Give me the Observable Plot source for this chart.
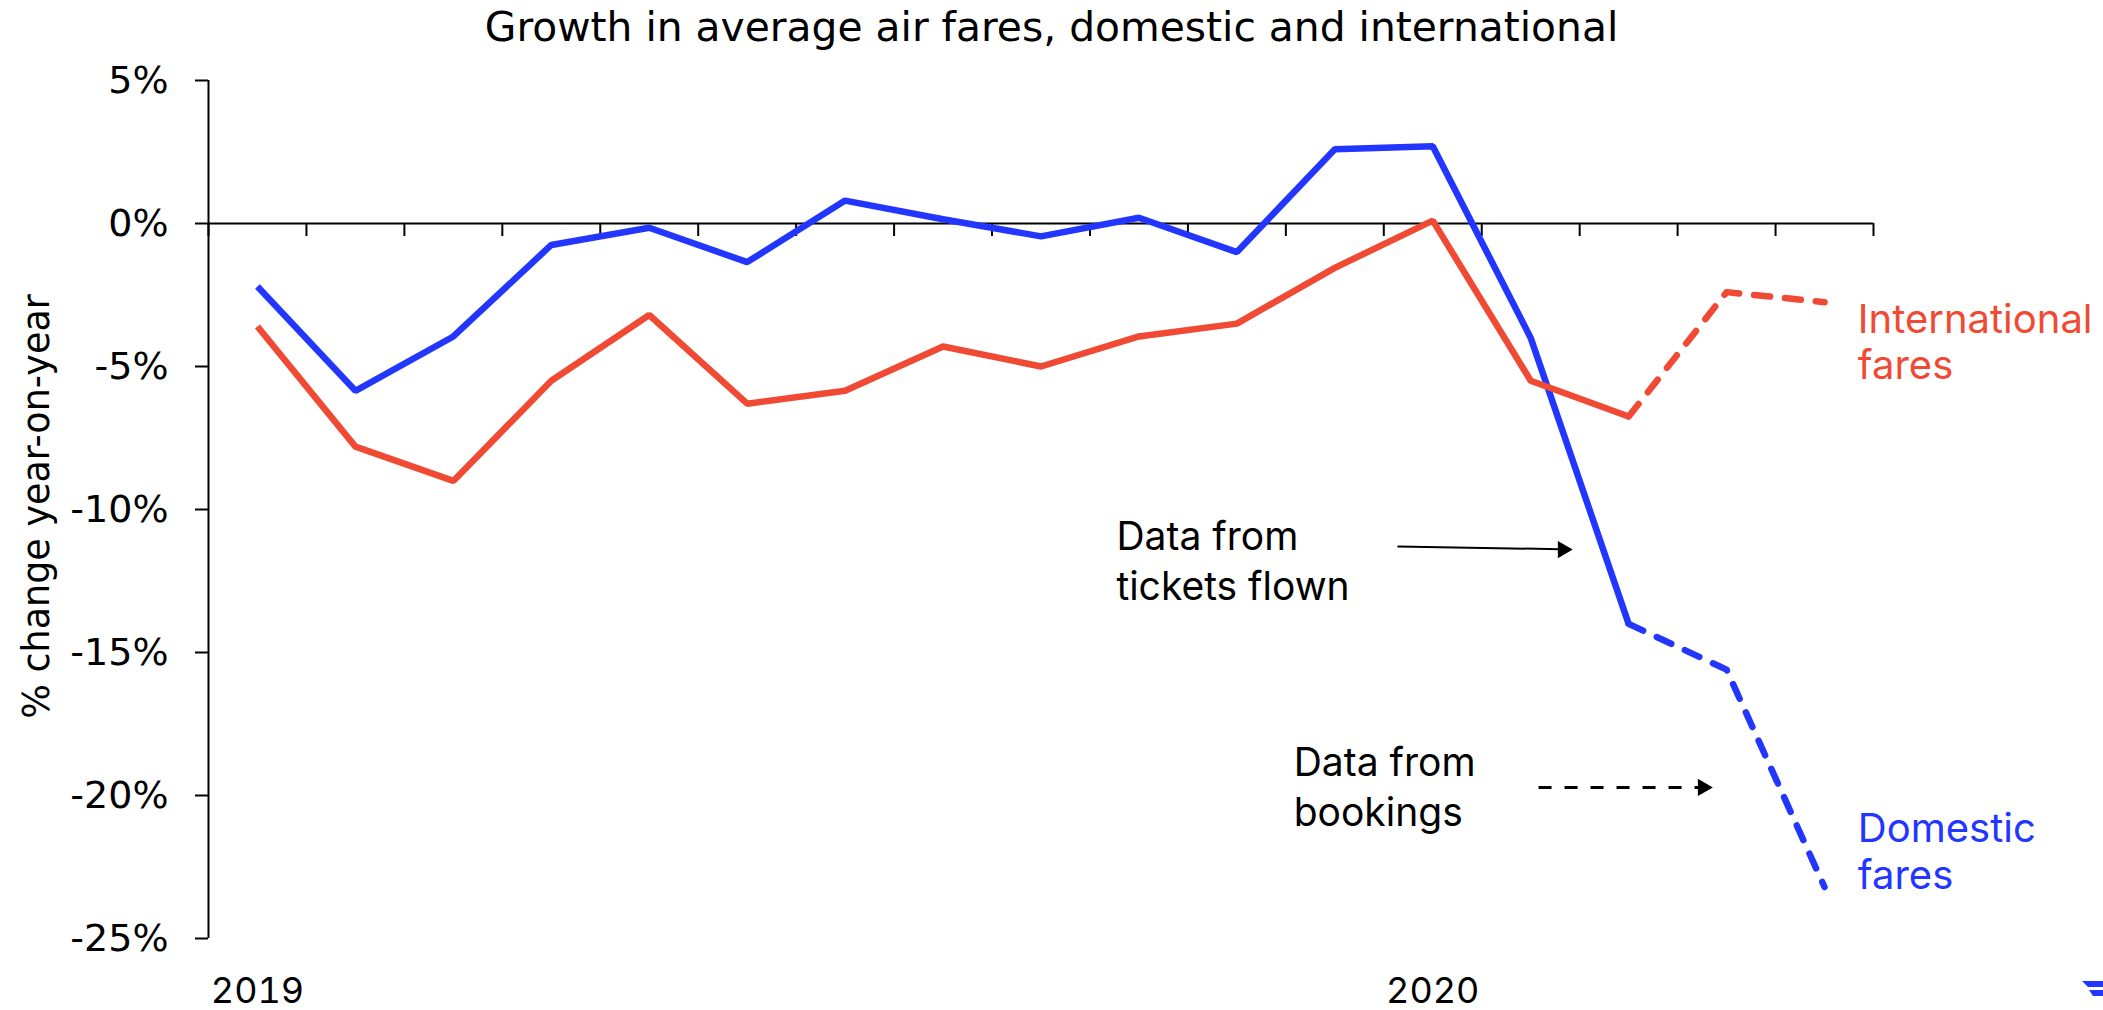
<!DOCTYPE html>
<html>
<head>
<meta charset="utf-8">
<script src="https://cdn.jsdelivr.net/npm/d3@7"></script>
<script src="https://cdn.jsdelivr.net/npm/@observablehq/plot@0.6"></script>
<style>
  html, body { margin: 0; padding: 0; background: #fff; }
  body { width: 2103px; height: 1010px; overflow: hidden; position: relative; }
  #title { height: 55px; line-height: 55px; text-align: center; font-family: "DejaVu Sans", sans-serif; font-size: 40.8px; color: #000; white-space: nowrap; }
  #logo { position: absolute; left: 2078px; top: 975px; }
</style>
</head>
<body>
<div id="title">Growth in average air fares, domestic and international</div>
<div id="chart"></div>
<svg id="logo" width="25" height="35" viewBox="0 0 25 35">
  <polygon points="4,6 25,6 25,12 10,12" fill="#2236ff"/>
  <polygon points="11,15 25,15 25,21 15,21" fill="#2236ff"/>
</svg>
<script>
// ---- data ----
const months = ["Jan 2019","Feb 2019","Mar 2019","Apr 2019","May 2019","Jun 2019","Jul 2019","Aug 2019","Sep 2019","Oct 2019","Nov 2019","Dec 2019","Jan 2020","Feb 2020","Mar 2020","Apr 2020","May 2020"];
const domesticFares      = [-2.2, -5.85, -3.95, -0.75, -0.15, -1.35, 0.8, 0.15, -0.45, 0.2, -1.0, 2.6, 2.7, -4.0, -14.0, -15.6, -23.2];
const internationalFares = [-3.6, -7.8, -9.0, -5.5, -3.2, -6.3, -5.85, -4.3, -5.0, -3.95, -3.5, -1.55, 0.1, -5.5, -6.75, -2.4, -2.75];
const dataSource = ["tickets","tickets","tickets","tickets","tickets","tickets","tickets","tickets","tickets","tickets","tickets","tickets","tickets","tickets","tickets","bookings","bookings"];
const seriesNames = ["Domestic fares", "International fares"];
const seriesLabels = ["Domestic\nfares", "International\nfares"];
const seriesColors = ["#2236ff", "#f04a34"];
const yTicks = [-25, -20, -15, -10, -5, 0, 5];
const yearLabels = ["2019", "2020"];
const yearLabelMonths = ["Jan 2019", "Jan 2020"];
const annotationTexts = ["Data from\ntickets flown", "Data from\nbookings"];
const yAxisTitle = "% change year-on-year";

// ---- table ----
const seriesValues = [domesticFares, internationalFares];
const rows = seriesNames.flatMap((s, si) => months.map((m, i) => ({series: s, i, value: seriesValues[si][i], source: dataSource[i]})));
const firstBooking = dataSource.indexOf("bookings");
const solidRows = rows.filter(d => d.i < firstBooking);
const dashedRows = rows.filter(d => d.i >= firstBooking - 1);
const boundaries = d3.range(months.length + 1).map(i => i - 0.5);
const yearTickIdx = yearLabelMonths.map(m => months.indexOf(m));

const sans = "'DejaVu Sans', sans-serif";
const inter = "Inter, 'Noto Sans', sans-serif";

const chart = Plot.plot({
  width: 2103,
  height: 955,
  marginTop: 25,
  marginBottom: 72,
  marginLeft: 208,
  marginRight: 230,
  style: {fontFamily: sans, fontSize: "38px", color: "#000", background: "#fff", overflow: "visible"},
  x: {domain: [-0.5, months.length - 0.5]},
  y: {domain: [-25, 5]},
  color: {domain: seriesNames, range: seriesColors},
  marks: [
    Plot.axisY({ticks: yTicks, tickFormat: d => d + "%", tickSize: 13, tickPadding: 27, strokeWidth: 2, fontSize: 38, fontFamily: sans, label: null}),
    Plot.axisX({ticks: yearTickIdx, tickFormat: i => yearLabels[yearTickIdx.indexOf(i)], tickSize: 0, tickPadding: 39, fontSize: 36, fontFamily: inter, label: null}),
    Plot.text([yAxisTitle], {frameAnchor: "left", text: d => d, rotate: -90, dx: -171, dy: -3, textAnchor: "middle", lineAnchor: "middle", fontSize: 36.5, fontFamily: sans, fill: "#000"}),
    Plot.ruleX([-0.5], {y1: -25, y2: 5, stroke: "#000", strokeWidth: 2}),
    Plot.ruleY([0], {x1: -0.5, x2: months.length - 0.5, stroke: "#000", strokeWidth: 2}),
    Plot.ruleX(boundaries, {x: d => d, y1: 0, y2: 0, insetBottom: -13, stroke: "#000", strokeWidth: 2}),
    Plot.line(solidRows, {x: "i", y: "value", z: "series", stroke: "series", strokeWidth: 6.5, strokeLinejoin: "miter", strokeLinecap: "butt"}),
    Plot.line(dashedRows, {x: "i", y: "value", z: "series", stroke: "series", strokeWidth: 6.5, strokeDasharray: "16,15", strokeLinecap: "round"}),
    // series labels
    Plot.text([0, 1], {x: 16.34, y: i => [-20.48, -2.66][i], text: i => seriesLabels[i], fill: i => seriesColors[i], textAnchor: "start", lineAnchor: "top", fontSize: 40, lineHeight: 1.16, fontFamily: inter}),
    // annotations
    Plot.text([0, 1], {x: i => [8.77, 10.58][i], y: i => [-10.18, -18.08][i], text: i => annotationTexts[i], fill: "#000", textAnchor: "start", lineAnchor: "top", fontSize: 39, lineHeight: 1.28, fontFamily: inter}),
    Plot.link([0], {x1: 11.64, y1: -11.29, x2: 13.3, y2: -11.39, stroke: "#000", strokeWidth: 2}),
    Plot.dot([0], {x: 13.43, y: -11.4, symbol: "triangle", rotate: 90, r: 6.4, fill: "#000", stroke: "none", dx: -10}),
    Plot.link([0], {x1: 13.08, y1: -19.72, x2: 14.72, y2: -19.72, stroke: "#000", strokeWidth: 3, strokeDasharray: "13,13"}),
    Plot.dot([0], {x: 14.86, y: -19.72, symbol: "triangle", rotate: 90, r: 6.4, fill: "#000", stroke: "none", dx: -10})
  ]
});
document.getElementById("chart").appendChild(chart);
</script>
</body>
</html>
